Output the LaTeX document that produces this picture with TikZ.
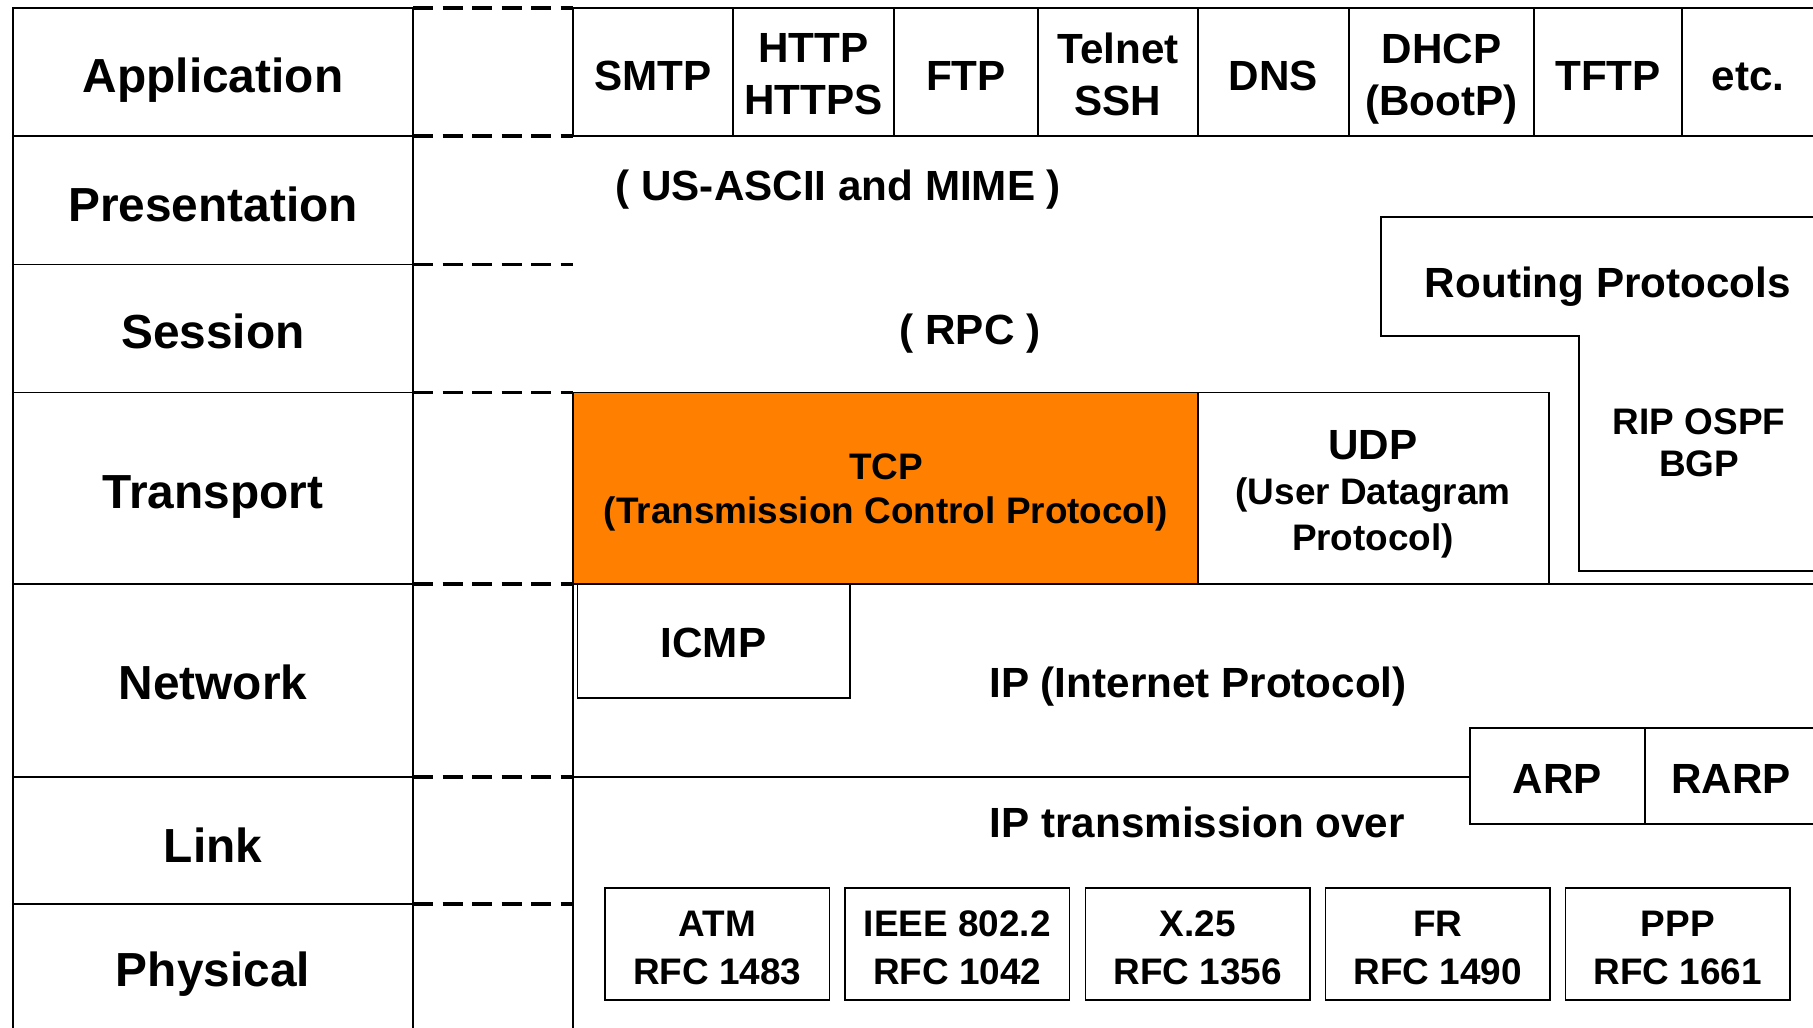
\documentclass[tikz,border=0pt]{standalone}
\usepackage{fontspec}
\setmainfont{Liberation Sans}
\usetikzlibrary{fit}
\definecolor{tcporange}{RGB}{255,128,0}

\tikzset{
  rule/.style={line width=0.55pt, draw=black},
  frame/.style={rule, inner sep=0pt, outer sep=0pt},
  tier/.style={draw=black, line width=0.9pt, dash pattern=on 5.7pt off 2.7pt},
  caplabel/.style={inner sep=0pt, text height=#1, text depth=0pt},
  layertxt/.style={caplabel=9.74pt, font=\fontsize{13.6pt}{16pt}\selectfont\bfseries},
  protxt/.style={caplabel=8.59pt, font=\fontsize{12pt}{14.8pt}\selectfont\bfseries},
  protwo/.style={inner sep=0pt, align=center, font=\fontsize{12pt}{14.8pt}\selectfont\bfseries},
  smalltwo/.style={inner sep=0pt, align=center, font=\fontsize{10.5pt}{13.66pt}\selectfont\bfseries},
}

\begin{document}
\begin{tikzpicture}[x=0.01cm, y=-0.01cm]
\useasboundingbox (0,0) rectangle (1813,1028);
\clip (0,0) rectangle (1813,1028);
\fill[white] (0,0) rectangle (1813,1028);

% ---- layer column -------------------------------------------------
\foreach \name/\ya/\yb in {application/8/136, presentation/136/264.5,
    session/264.5/392.5, transport/392.5/584, network/584/777,
    link/777/904, physical/904/1060}
  \node[frame, fit={(13,\ya) (413,\yb)}] (\name) {};

\node[layertxt] (application-t)  at (213,75.5)  {Application};
\node[layertxt] (presentation-t) at (213,204.7) {Presentation};
\node[layertxt] (session-t)      at (213,331.7) {Session};
\node[layertxt] (transport-t)    at (213,491)   {Transport};
\node[layertxt] (network-t)      at (213,682.7) {Network};
\node[layertxt] (link-t)         at (213,845.5) {Link};
\node[layertxt] (physical-t)     at (213,969.7) {Physical};

% dashed layer boundaries in the spacer column
\foreach \name in {application,presentation,session,transport,network,link,physical}
  \draw[tier] (\name.north east) -- ++(160,0);

% ---- application protocols ----------------------------------------
\foreach \name/\xa/\xb in {smtp/573/733, http/733/894, ftp/894/1038,
    telnet/1038/1198, dns/1198/1349, dhcp/1349/1534, tftp/1534/1682,
    etc/1682/1840}
  \node[frame, fit={(\xa,8) (\xb,136)}] (\name) {};

\node[protxt] (smtp-t)   at (653,75.5)   {SMTP};
\node[protwo] (http-t)   at (813.5,74.6) {HTTP\\HTTPS};
\node[protxt] (ftp-t)    at (966,75.5)   {FTP};
\node[protwo] (telnet-t) at (1118,74.7)  {Telnet\\SSH};
\node[protxt] (dns-t)    at (1273.5,75.5){DNS};
\node[protwo] (dhcp-t)   at (1441.5,79)  {DHCP\\(BootP)};
\node[protxt] (tftp-t)   at (1608,75.5)  {TFTP};
\node[protxt] (etc-t)    at (1748,75.5)  {etc.};

% ---- presentation / session ---------------------------------------
\node[protxt] (mime) at (838.3,185.8) {( US-ASCII and MIME )};
\node[protxt] (rpc)  at (970,329)     {( RPC )};

% ---- routing protocols (stepped outline) --------------------------
\draw[rule] (1840,217) -- (1380.6,217) -- (1380.6,336) -- (1579,336)
  -- (1579,571) -- (1840,571);
\node[protxt] (routing) at (1607.8,282) {Routing Protocols};
\node[smalltwo, font=\fontsize{10.5pt}{12pt}\selectfont\bfseries]
  (rip) at (1699,443) {RIP OSPF\\BGP};

% ---- transport ----------------------------------------------------
\node[frame, fill=tcporange, fit={(573,392.5) (1198,584)}] (tcp) {};
\node[frame, fit={(1198,392.5) (1549,584)}] (udp) {};
\node[smalltwo, font=\fontsize{10.5pt}{12.5pt}\selectfont\bfseries]
  (tcp-t) at (886,492.9) {TCP\\(Transmission Control Protocol)};
\node[smalltwo, font=\fontsize{10.5pt}{12.9pt}\selectfont\bfseries]
  (udp-t) at (1373,494.2)
  {{\fontsize{12pt}{12.9pt}\selectfont UDP}\\(User Datagram\\Protocol)};

\draw[rule] (tcp.south west) -- (1840,584);
\draw[rule] (tcp.south west) -- (573,1060);

% ---- network ------------------------------------------------------
\node[frame, fit={(577.5,584) (850,698)}] (icmp) {};
\node[protxt] (icmp-t) at (713.5,642.5) {ICMP};
\node[protxt] (ip) at (1198,682.5) {IP (Internet Protocol)};

\node[frame, fit={(1470,728) (1645,824)}] (arp) {};
\node[frame, fit={(1645,728) (1840,824)}] (rarp) {};
\node[protxt] (arp-t)  at (1557.5,778.5) {ARP};
\node[protxt] (rarp-t) at (1731,778.5)   {RARP};

% ---- link / physical ----------------------------------------------
\draw[rule] (573,777) -- (1470,777);
\node[protxt] (ipover) at (1197.3,822.5) {IP transmission over};

\foreach \name/\xa/\top/\bot in {atm/605/ATM/RFC 1483,
    ieee/845/IEEE 802.2/RFC 1042, xtwentyfive/1085.5/X.25/RFC 1356,
    fr/1325.5/FR/RFC 1490, ppp/1565.5/PPP/RFC 1661}
{
  \node[frame, fit={(\xa,888.3) (\xa+224.5,1000)}] (\name) {};
  \node[smalltwo] (\name-t) at (\name.center) [yshift=-0.035cm] {\top\\\bot};
}
\end{tikzpicture}
\end{document}
